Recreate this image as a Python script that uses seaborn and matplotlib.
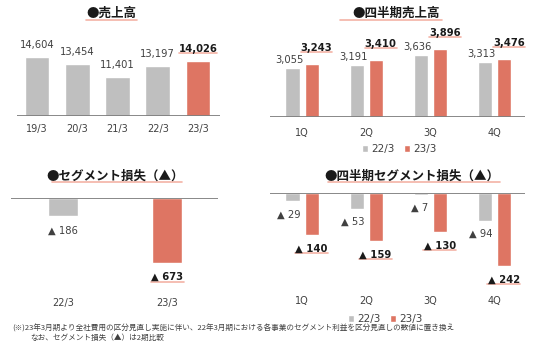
import matplotlib
matplotlib.use("Agg")
import matplotlib.pyplot as plt
from matplotlib.lines import Line2D
import seaborn as sns
import pandas as pd

# ---- data ----
years = ["19/3", "20/3", "21/3", "22/3", "23/3"]
sales = [14604, 13454, 11401, 13197, 14026]
quarters = ["1Q", "2Q", "3Q", "4Q"]
series = ["22/3", "23/3"]
q_sales_22 = [3055, 3191, 3636, 3313]
q_sales_23 = [3243, 3410, 3896, 3476]
seg_years = ["22/3", "23/3"]
seg_loss = [186, 673]
q_loss_22 = [29, 53, 7, 94]
q_loss_23 = [140, 159, 130, 242]

titles = ["●売上高", "●四半期売上高", "●セグメント損失（▲）", "●四半期セグメント損失（▲）"]
note1 = "(※)23年3月期より全社費用の区分見直し実施に伴い、22年3月期における各事業のセグメント利益を区分見直しの数値に置き換え"
note2 = "なお、セグメント損失（▲）は2期比較"

GRAY = "#bfbfbf"
RED = "#de7563"
ULINE = "#f4b3a6"
TXT = "#404040"
BOLD = "#1a1a1a"

sns.set_theme(style="white")
plt.rcParams["font.family"] = ["DejaVu Sans", "Noto Sans CJK JP"]

W, H = 536, 357
fig = plt.figure(figsize=(W / 100, H / 100), dpi=100)


def add_ax(x0, x1, y_top, y_bot):
    return fig.add_axes([x0 / W, 1 - y_bot / H, (x1 - x0) / W, (y_bot - y_top) / H])


def fig_line(x0, x1, y):
    fig.add_artist(Line2D([x0 / W, x1 / W], [1 - y / H, 1 - y / H], color=ULINE, lw=1.2,
                          transform=fig.transFigure))


def style(ax, base_y=0):
    for s in ax.spines.values():
        s.set_visible(False)
    ax.axhline(base_y, color="#7f7f7f", lw=1.3, zorder=5)
    ax.set_xlabel("")
    ax.set_ylabel("")
    ax.set_yticks([])
    ax.tick_params(axis="x", length=0, labelsize=7, labelcolor=TXT)


def underline(ax, x, y, dy_px, width_px, px_per_x):
    # underline located relative to a data point, offset in pixels
    half = width_px / 2 / px_per_x
    trans = matplotlib.transforms.offset_copy(ax.transData, fig=fig, x=0, y=dy_px, units="dots")
    ax.add_line(Line2D([x - half, x + half], [y, y], color=ULINE, lw=1.2, transform=trans,
                       clip_on=False))


def label(ax, x, y, text, dx_px, dy_px, bold=False, ha="center"):
    ax.annotate(text, (x, y), xytext=(dx_px * 0.72, dy_px * 0.72), textcoords="offset points",
                ha=ha, va="center", fontsize=7.2,
                color=BOLD if bold else TXT, fontweight="bold" if bold else "normal")


# ---- top-left: annual sales ----
ax1 = add_ax(17, 220, 30, 116)
sns.barplot(x=years, y=sales, hue=years, palette=[GRAY] * 4 + [RED], width=0.62,
            saturation=1, legend=False, ax=ax1)
ax1.set_xlim(-0.497, 4.547)
ax1.set_ylim(5155, 5155 + 86 / 0.006244)
style(ax1, 5155)
ax1.tick_params(axis="x", pad=6)
pxx1 = 40.25
for i, v in enumerate(sales):
    last = i == len(sales) - 1
    label(ax1, i, v, f"{v:,}", 0, 12, bold=last)
    if last:
        underline(ax1, i, v, 8, 38, pxx1)

# ---- top-right: quarterly sales ----
ax2 = add_ax(270, 525, 30, 116.7)
df2 = pd.DataFrame({"q": quarters * 2, "s": [series[0]] * 4 + [series[1]] * 4,
                    "v": q_sales_22 + q_sales_23})
sns.barplot(data=df2, x="q", y="v", hue="s", palette=[GRAY, RED], width=0.594, gap=0.26,
            saturation=1, ax=ax2)
ax2.set_xlim(-0.5, 3.48)
ax2.set_ylim(991, 991 + 86.7 / 0.0234)
style(ax2, 991)
ax2.tick_params(axis="x", pad=8)
pxx2 = 64.2
off = 0.148
for i in range(4):
    label(ax2, i - off, q_sales_22[i], f"{q_sales_22[i]:,}", -3, 8)
    label(ax2, i + off, q_sales_23[i], f"{q_sales_23[i]:,}", 5, 16, bold=True)
    underline(ax2, i + off + 5 / pxx2, q_sales_23[i], 12, 32, pxx2)
ax2.legend(loc="center", bbox_to_anchor=(399 / W, 1 - 149 / H), bbox_transform=fig.transFigure,
           ncol=2, frameon=False, fontsize=7.5, handlelength=0.6, handleheight=0.6,
           handletextpad=0.3, columnspacing=0.9, labelcolor=TXT, borderpad=0)

# ---- bottom-left: segment loss ----
ax3 = add_ax(11, 218, 197.7, 292)
neg_seg = [-v for v in seg_loss]
sns.barplot(x=seg_years, y=neg_seg, hue=seg_years, palette=[GRAY, RED], width=0.284,
            saturation=1, legend=False, ax=ax3)
ax3.set_xlim(-0.5, 1.49)
ax3.set_ylim(-972, 0)
style(ax3, 0)
ax3.tick_params(axis="x", pad=4)
pxx3 = 104
label(ax3, 0, neg_seg[0], f"▲ {seg_loss[0]}", 0, -15)
label(ax3, 1, neg_seg[1], f"▲ {seg_loss[1]}", 0, -14, bold=True)
underline(ax3, 1, neg_seg[1], -19, 33, pxx3)

# ---- bottom-right: quarterly segment loss ----
ax4 = add_ax(270, 525, 192.7, 288)
df4 = pd.DataFrame({"q": quarters * 2, "s": [series[0]] * 4 + [series[1]] * 4,
                    "v": [-v for v in q_loss_22] + [-v for v in q_loss_23]})
sns.barplot(data=df4, x="q", y="v", hue="s", palette=[GRAY, RED], width=0.594, gap=0.26,
            saturation=1, ax=ax4)
ax4.set_xlim(-0.5, 3.48)
ax4.set_ylim(-314.5, 0)
style(ax4, 0)
ax4.tick_params(axis="x", pad=6)
for i in range(4):
    label(ax4, i - off + 8 / pxx2, -q_loss_22[i], f"▲ {q_loss_22[i]}", 0, -13, ha="right")
    label(ax4, i + off, -q_loss_23[i], f"▲ {q_loss_23[i]}", 0, -14, bold=True)
    underline(ax4, i + off, -q_loss_23[i], -18, 33, pxx2)
ax4.legend(loc="center", bbox_to_anchor=(385 / W, 1 - 319 / H), bbox_transform=fig.transFigure,
           ncol=2, frameon=False, fontsize=7.5, handlelength=0.6, handleheight=0.6,
           handletextpad=0.3, columnspacing=0.9, labelcolor=TXT, borderpad=0)

# ---- titles ----
tfont = ["Noto Sans CJK JP", "DejaVu Sans"]
for (t, cx, cy) in zip(titles, [111, 396, 115, 412], [13, 13, 176, 176]):
    fig.text(cx / W, 1 - cy / H, t, ha="center", va="center", fontsize=9, fontweight="bold",
             color=BOLD, family=tfont)
fig_line(86, 137, 19.5)
fig_line(340, 442, 19.5)
fig_line(52, 182, 182)
fig_line(328, 500, 182)

# ---- notes ----
fig.text(12 / W, 1 - 329 / H, note1, ha="left", va="center", fontsize=5.5, color=TXT, family=tfont)
fig.text(30 / W, 1 - 338 / H, note2, ha="left", va="center", fontsize=5.5, color=TXT, family=tfont)

fig.savefig("out.png", dpi=100, facecolor="white")
